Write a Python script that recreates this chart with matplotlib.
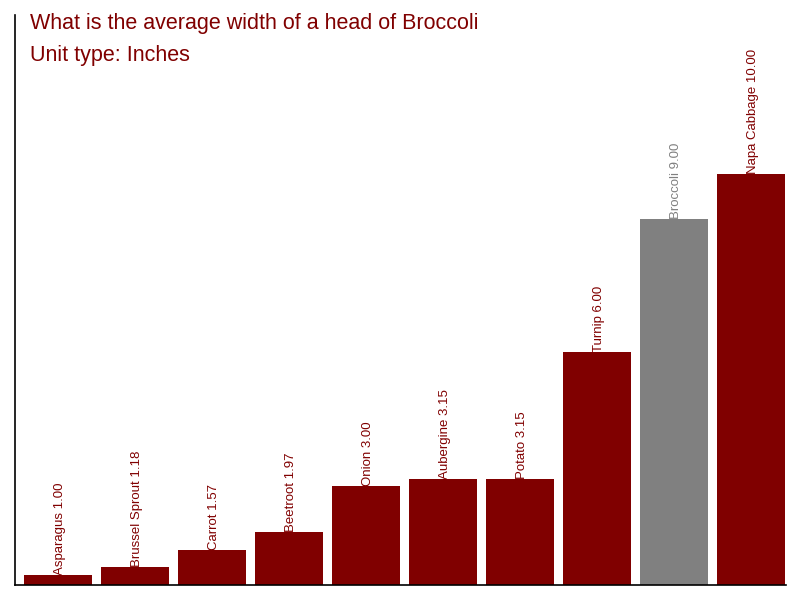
import matplotlib
matplotlib.use('Agg')
import matplotlib.pyplot as plt

plt.rcParams['font.family'] = ['Liberation Sans', 'DejaVu Sans']

# data
names = ['Asparagus', 'Brussel Sprout', 'Carrot', 'Beetroot', 'Onion',
         'Aubergine', 'Potato', 'Turnip', 'Broccoli', 'Napa Cabbage']
widths = [1.00, 1.18, 1.57, 1.97, 3.00, 3.15, 3.15, 6.00, 9.00, 10.00]
highlight = 'Broccoli'

red = '#800000'
grey = '#808080'

fig = plt.figure(figsize=(8, 6), dpi=100)
ax = fig.add_axes([15/800, 15/600, 771/800, 570/600])

base = 0.775
colors = [grey if n == highlight else red for n in names]
x = list(range(len(names)))
ax.bar(x, [w - base for w in widths], bottom=base, width=0.883, color=colors)

for i, (n, w) in enumerate(zip(names, widths)):
    ax.text(i + 0.02, w, '%s %.2f' % (n, w), rotation=90, ha='center', va='bottom',
            fontsize=9.5, color=colors[i])

ax.set_xlim(-0.558, 9.455)
ax.set_ylim(base, 13.58)
ax.spines['top'].set_visible(False)
ax.spines['right'].set_visible(False)
for s in ('left', 'bottom'):
    ax.spines[s].set_linewidth(1.2)
    ax.spines[s].set_color('black')
ax.set_xticks([])
ax.set_yticks([])

fig.text(30/800, 1 - 24/600, 'What is the average width of a head of Broccoli',
         fontsize=15.5, color=red, va='center', ha='left')
fig.text(30/800, 1 - 55/600, 'Unit type: Inches',
         fontsize=15.5, color=red, va='center', ha='left')

fig.savefig('out.png', dpi=100)
